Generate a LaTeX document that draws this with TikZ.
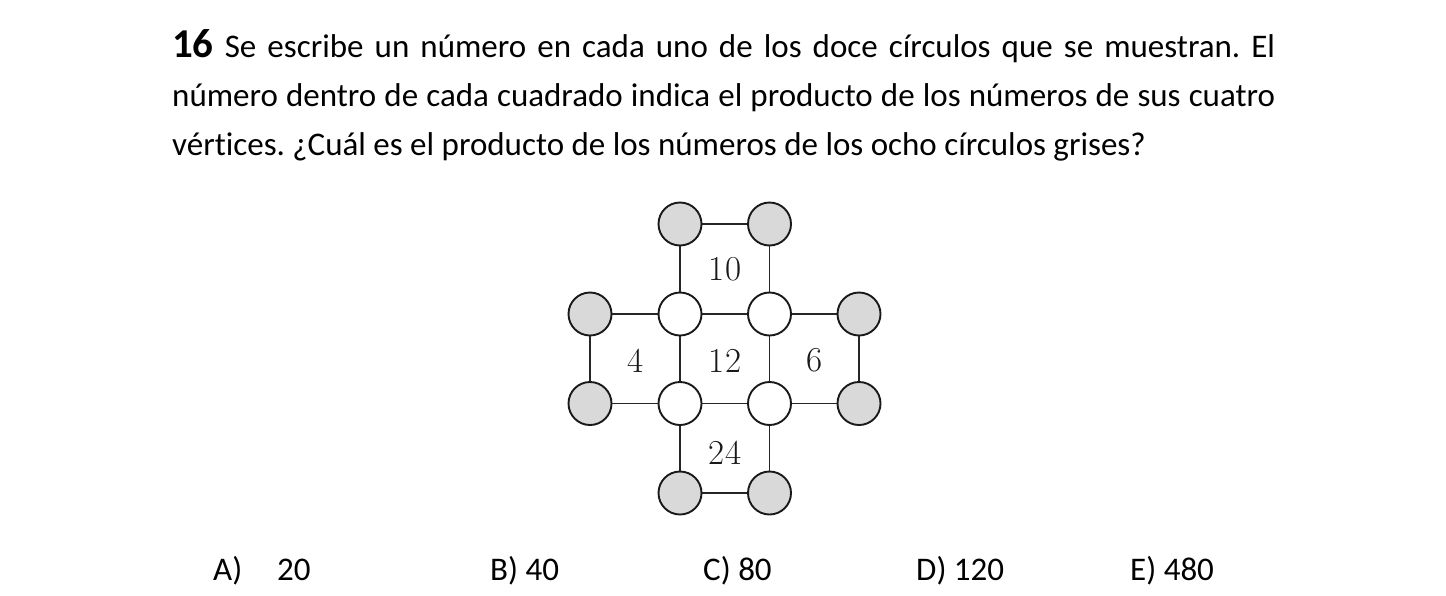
\documentclass[tikz,border=0pt]{standalone}
\usepackage{fontspec}
\setmainfont{Carlito}[Ligatures=NoCommon]
\newfontfamily\lmfont{Latin Modern Roman}
\frenchspacing
\tikzset{
  gcirc/.style={circle, draw=black!90, line width=1.9pt, fill=black!15, minimum size=43pt, inner sep=0pt},
  wcirc/.style={circle, draw=black!90, line width=1.9pt, fill=white, minimum size=43pt, inner sep=0pt},
  link/.style={draw=black!85, line width=1.7pt},
  sqnum/.style={font=\lmfont\fontsize{35}{35}\selectfont, text=black!90, inner sep=0pt},
  qline/.style={anchor=base west, inner sep=0pt, font=\fontsize{33}{35}\selectfont},
  ans/.style={anchor=base west, inner sep=0pt, font=\fontsize{33}{35}\selectfont}
}
\begin{document}
\begin{tikzpicture}[x=1pt,y=-1pt]
\useasboundingbox (0,0) rectangle (1446,595);
% question text
\node[qline] (l1) at (172,57) {\makebox[1103pt][s]{{\bfseries\fontsize{41}{41}\selectfont 16} Se escribe un número en cada uno de los doce círculos que se muestran. El}};
\node[qline] (l2) at (172,106.5) {\makebox[1103pt][s]{número dentro de cada cuadrado indica el producto de los números de sus cuatro}};
\node[qline] (l3) at (172,155) {vértices. ¿Cuál es el producto de los números de los ocho círculos grises?};
% diagram
\begin{scope}
\clip (500,180) rectangle (882,530);
\node[gcirc] (t1) at (680,224) {};
\node[gcirc] (t2) at (769.5,224) {};
\node[gcirc] (l1c) at (590,314) {};
\node[wcirc] (w1) at (680,314) {};
\node[wcirc] (w2) at (769.5,314) {};
\node[gcirc] (r1) at (859,314) {};
\node[gcirc] (l2c) at (590,403.5) {};
\node[wcirc] (w3) at (680,403.5) {};
\node[wcirc] (w4) at (769.5,403.5) {};
\node[gcirc] (r2) at (859,403.5) {};
\node[gcirc] (b1) at (680,493) {};
\node[gcirc] (b2) at (769.5,493) {};
\draw[link] (t1) -- (t2);
\draw[link] (t1) -- (w1);
\draw[link] (t2) -- (w2);
\draw[link] (l1c) -- (w1);
\draw[link] (w1) -- (w2);
\draw[link] (w2) -- (r1);
\draw[link] (l1c) -- (l2c);
\draw[link] (r1) -- (r2);
\draw[link] (w1) -- (w3);
\draw[link] (w2) -- (w4);
\draw[link] (l2c) -- (w3);
\draw[link] (w3) -- (w4);
\draw[link] (w4) -- (r2);
\draw[link] (w3) -- (b1);
\draw[link] (w4) -- (b2);
\draw[link] (b1) -- (b2);
\end{scope}
\node[sqnum] (n10) at (725,269) {10};
\node[sqnum] (n4) at (636,360.5) {4};
\node[sqnum] (n12) at (725,360.5) {12};
\node[sqnum] (n6) at (815,360.5) {6};
\node[sqnum] (n24) at (725,452.5) {24};
% answers
\node[ans] (aA) at (213,580) {A)};
\node[ans] (aA2) at (277,580) {20};
\node[ans] (aB) at (490,580) {B) 40};
\node[ans] (aC) at (703,580) {C) 80};
\node[ans] (aD) at (916,580) {D) 120};
\node[ans] (aE) at (1130,580) {E) 480};
\end{tikzpicture}
\end{document}
